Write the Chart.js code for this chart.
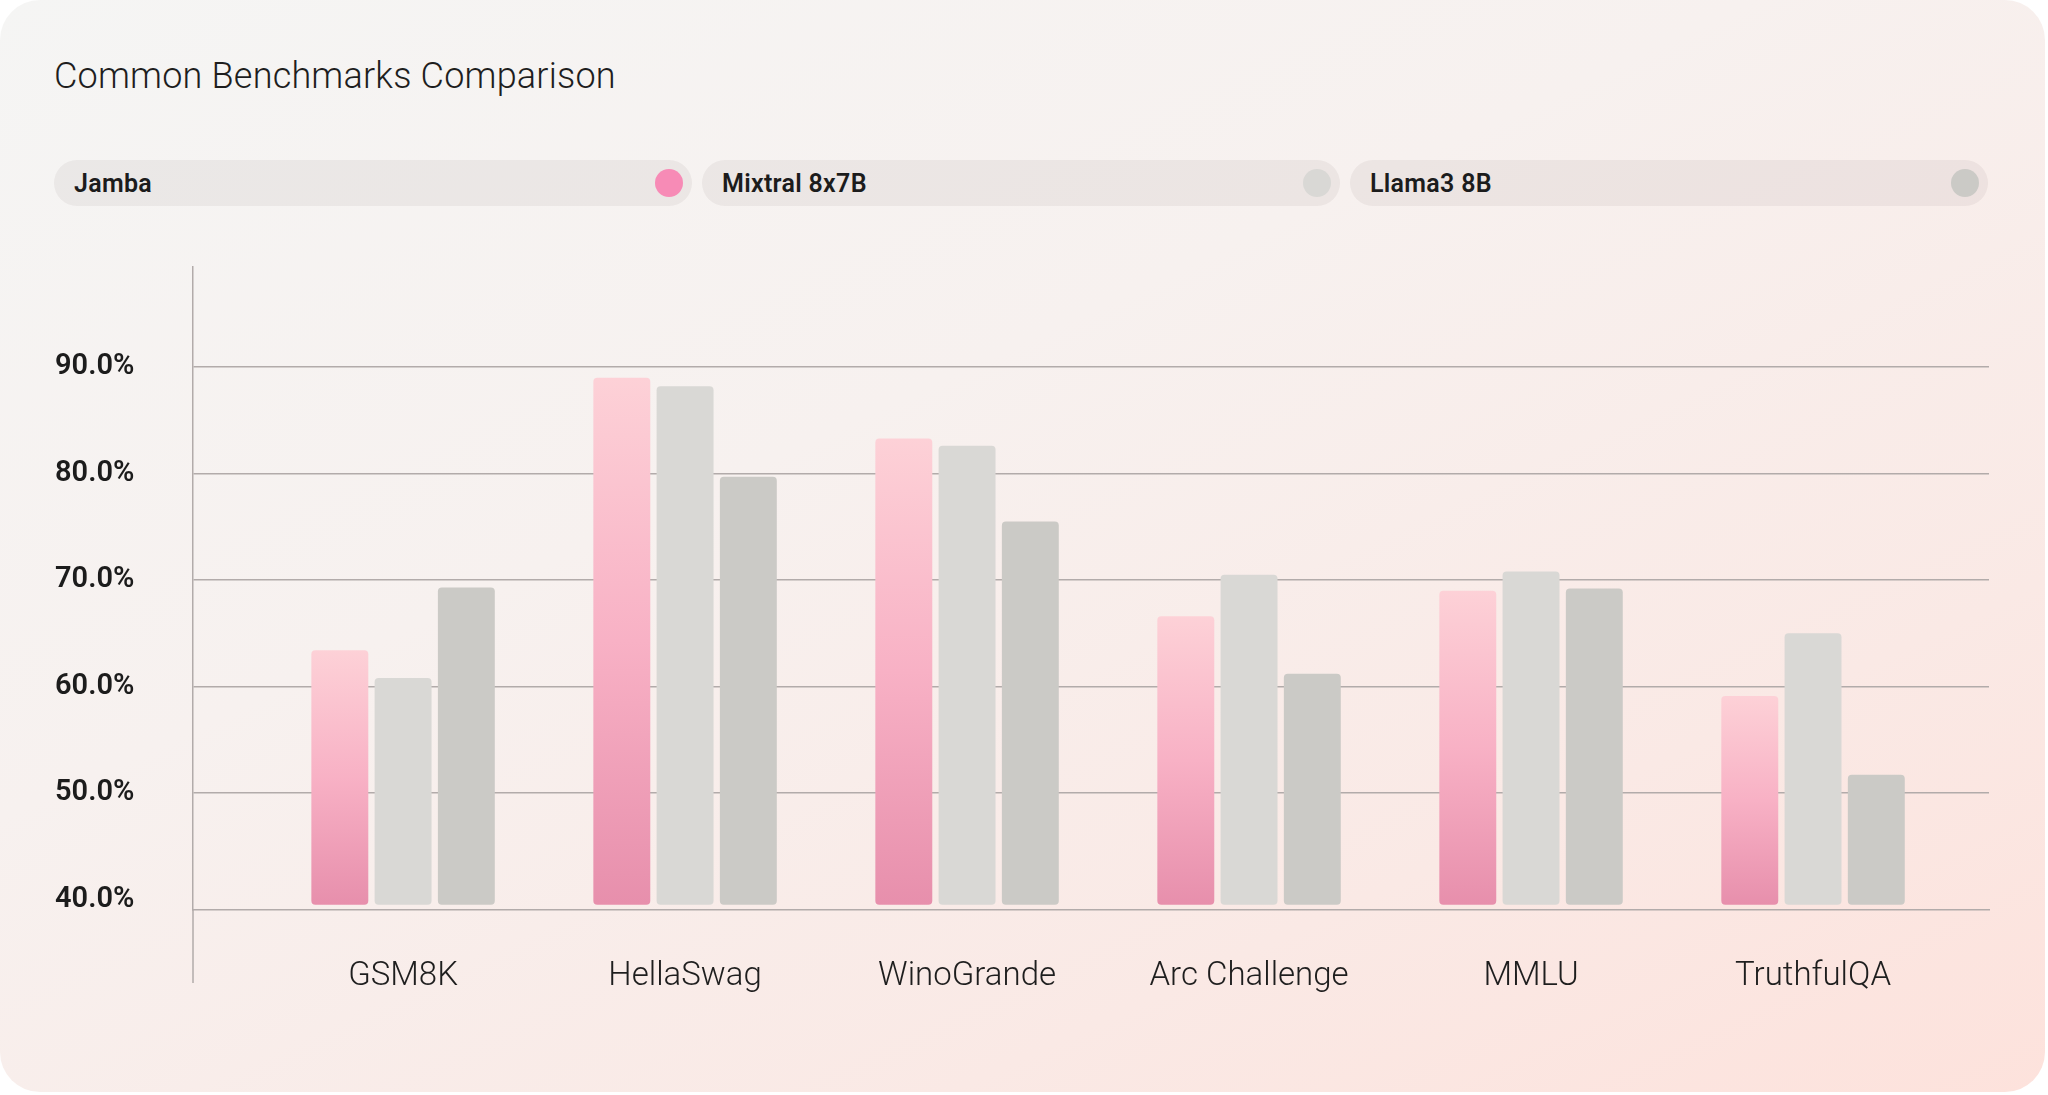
<html>
  <head>
    <script src="https://cdn.jsdelivr.net/npm/chart.js"></script>
    <style>
      html, body { margin: 0; padding: 0; background: #ffffff; }
      body { width: 2048px; height: 1095px; position: relative; overflow: hidden; font-family: Roboto, "Noto Sans", sans-serif; }
      #card {
        position: absolute; left: 0; top: 0; width: 2045px; height: 1092px;
        border-radius: 40px;
        background: linear-gradient(155deg, #f5f5f4 0%, #f7f1ef 40%, #fae9e5 75%, #fde2dc 100%);
      }
      #title {
        position: absolute; left: 54px; top: 55px;
        font-size: 36px; font-weight: 300; color: #1e1e1e; letter-spacing: 0.2px;
      }
      #legend { position: absolute; left: 54px; top: 160px; display: flex; gap: 10px; }
      .pill {
        width: 638px; height: 46px; border-radius: 23px; box-sizing: border-box;
        background: rgba(40, 20, 20, 0.05);
        display: flex; align-items: center; justify-content: space-between;
        padding: 0 9px 0 20px;
        font-size: 25px; font-weight: 600; color: #1c1c1c; letter-spacing: 0.3px;
      }
      .dot { width: 28px; height: 28px; border-radius: 50%; }
      #wrap { position: absolute; left: 0; top: 230px; width: 2048px; height: 865px; }
    </style>
  </head>
  <body>
    <div id="card"></div>
    <div id="title">Common Benchmarks Comparison</div>
    <div id="legend"></div>
    <div id="wrap"><canvas id="myChart"></canvas></div>
    <script>
      const categories = ['GSM8K', 'HellaSwag', 'WinoGrande', 'Arc Challenge', 'MMLU', 'TruthfulQA'];
      const seriesNames = ['Jamba', 'Mixtral 8x7B', 'Llama3 8B'];
      const jamba = [63.4, 89.0, 83.3, 66.6, 69.0, 59.1];
      const mixtral = [60.8, 88.2, 82.6, 70.5, 70.8, 65.0];
      const llama3 = [69.3, 79.7, 75.5, 61.2, 69.2, 51.7];
      const yTicks = [40, 50, 60, 70, 80, 90];

      const dotColors = ['#f78bb6', '#d9d8d5', '#cbcac6'];
      const gridColor = '#b2abaa';

      // legend pills
      const legend = document.getElementById('legend');
      seriesNames.forEach((name, i) => {
        const pill = document.createElement('div');
        pill.className = 'pill';
        pill.innerHTML = '<span>' + name + '</span><span class="dot" style="background:' + dotColors[i] + '"></span>';
        legend.appendChild(pill);
      });

      const barBase = 39.5;

      // pink gradient per bar, from the bar's own top down to its base
      function jambaFill(context) {
        const chart = context.chart;
        if (!chart.chartArea) return '#f5a9c1';
        const y = chart.scales.y;
        const top = y.getPixelForValue(context.raw.y);
        const bottom = y.getPixelForValue(barBase);
        const g = chart.ctx.createLinearGradient(0, top, 0, bottom);
        g.addColorStop(0, '#fdd1d7');
        g.addColorStop(0.5, '#f8b1c5');
        g.addColorStop(1, '#e78fac');
        return g;
      }

      const toPoints = arr => arr.map((v, i) => ({ x: i, y: v }));

      const data = {
        datasets: [
          { label: seriesNames[0], data: toPoints(jamba), backgroundColor: jambaFill },
          { label: seriesNames[1], data: toPoints(mixtral), backgroundColor: '#d9d8d5' },
          { label: seriesNames[2], data: toPoints(llama3), backgroundColor: '#cbcac6' }
        ].map(d => Object.assign(d, {
          base: barBase,
          borderRadius: 4,
          borderSkipped: false,
          categoryPercentage: 0.673,
          barPercentage: 0.9
        }))
      };

      // y axis line runs on below the x axis, down past the labels
      const axisTail = {
        id: 'axisTail',
        afterDraw(chart) {
          const { ctx, chartArea } = chart;
          ctx.save();
          ctx.strokeStyle = gridColor;
          ctx.lineWidth = 1.5;
          ctx.beginPath();
          ctx.moveTo(chartArea.left, chartArea.bottom);
          ctx.lineTo(chartArea.left, chartArea.bottom + 73);
          ctx.stroke();
          ctx.restore();
        }
      };

      const config = {
        type: 'bar',
        data: data,
        plugins: [axisTail],
        options: {
          responsive: true,
          maintainAspectRatio: false,
          animation: false,
          layout: { padding: { left: 55, right: 59, top: 37, bottom: 0 } },
          plugins: { legend: { display: false }, tooltip: { enabled: false } },
          scales: {
            x: {
              type: 'linear',
              min: -0.745,
              max: 5.624,
              offset: false,
              grid: { display: false, drawTicks: false },
              border: { display: true, color: gridColor, width: 1.5 },
              afterBuildTicks: scale => { scale.ticks = categories.map((c, i) => ({ value: i })); },
              afterFit: scale => { scale.height = 185; },
              ticks: {
                autoSkip: false,
                maxRotation: 0,
                padding: 47,
                color: '#1e1e1e',
                font: { family: 'Roboto', size: 33, weight: 300 },
                callback: v => categories[v]
              }
            },
            y: {
              min: 39,
              max: 99.4,
              grid: {
                drawTicks: false,
                lineWidth: 1.5,
                color: c => (c.tick && c.tick.value === 40 ? 'rgba(0,0,0,0)' : gridColor)
              },
              border: { display: true, color: gridColor, width: 1.5 },
              afterBuildTicks: scale => { scale.ticks = yTicks.map(v => ({ value: v })); },
              afterFit: scale => { scale.width = 138; },
              ticks: {
                crossAlign: 'far',
                color: '#1c1c1c',
                font: { family: 'Roboto', size: 29, weight: 600 },
                callback: v => v.toFixed(1) + '%'
              }
            }
          }
        }
      };

      const ctx = document.getElementById('myChart').getContext('2d');
      const myChart = new Chart(ctx, config);
    </script>
  </body>
</html>
